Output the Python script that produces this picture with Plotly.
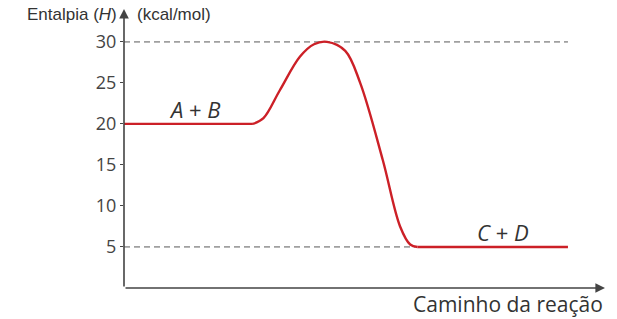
import plotly.graph_objects as go

# Data
path_x = [0, 26.8, 29.0, 32.4, 36.6, 39.5, 42.2, 46.0, 49.1, 53.8, 57.4, 59.5, 61.0, 92.3]
enthalpy = [20, 20, 20.7, 24.1, 28.2, 29.7, 30, 28.9, 25.0, 15.6, 7.5, 5.3, 5.0, 5.0]
ref_levels = [30, 5]
ref_ends = [92.3, 60.5]
y_ticks = [5, 10, 15, 20, 25, 30]
labels = ["<i>A</i> + <i>B</i>", "<i>C</i> + <i>D</i>"]
label_x = [14.8, 78.8]
label_y = [21.8, 6.8]
y_top = 34

fig = go.Figure()

for lvl, xe in zip(ref_levels, ref_ends):
    fig.add_trace(go.Scatter(x=[0, xe], y=[lvl, lvl], mode="lines",
                             line=dict(color="#a0a0a0", width=1.8, dash="6px,4px"),
                             hoverinfo="skip", showlegend=False))

red = dict(color="#cc2027", width=2.4)
# flat start, curved barrier, flat end
fig.add_trace(go.Scatter(x=path_x[:2], y=enthalpy[:2], mode="lines",
                         line=red, showlegend=False))
fig.add_trace(go.Scatter(x=path_x[1:-1], y=enthalpy[1:-1], mode="lines",
                         line=dict(**red, shape="spline", smoothing=1.0), showlegend=False))
fig.add_trace(go.Scatter(x=path_x[-2:], y=enthalpy[-2:], mode="lines",
                         line=red, showlegend=False))

for t, lx, ly in zip(labels, label_x, label_y):
    fig.add_annotation(x=lx, y=ly, text=t, showarrow=False,
                       font=dict(family="Open Sans", size=22, color="#333"))

# axes with arrows
fig.add_annotation(x=100, y=0, ax=0, ay=0, xref="x", yref="y", axref="x", ayref="y",
                   showarrow=True, arrowhead=2, arrowsize=1.2, arrowwidth=1.6,
                   arrowcolor="#444", text="")
fig.add_annotation(x=0, y=y_top, ax=0, ay=0, xref="x", yref="y", axref="x", ayref="y",
                   showarrow=True, arrowhead=2, arrowsize=1.2, arrowwidth=1.6,
                   arrowcolor="#444", text="")

fig.add_annotation(x=0, y=y_top, xref="x", yref="y", xanchor="right", yanchor="middle",
                   xshift=-5, yshift=-5, text="Entalpia (<i>H</i>)", showarrow=False,
                   font=dict(family="Liberation Sans", size=17, color="#333"))
fig.add_annotation(x=0, y=y_top, xref="x", yref="y", xanchor="left", yanchor="middle",
                   xshift=11, yshift=-5, text="(kcal/mol)", showarrow=False,
                   font=dict(family="Liberation Sans", size=17, color="#333"))
fig.add_annotation(x=100, y=0, xref="x", yref="y", xanchor="right", yanchor="top",
                   yshift=0, text="Caminho da reação", showarrow=False,
                   font=dict(family="Open Sans", size=21, color="#333"))

fig.update_xaxes(range=[0, 100], visible=False, fixedrange=True)
fig.update_yaxes(range=[0, y_top], tickvals=y_ticks, ticks="outside", ticklen=3,
                 tickcolor="#444", showgrid=False, zeroline=False, showline=False,
                 tickfont=dict(family="Open Sans", size=18, color="#444"))

fig.update_layout(width=617, height=319, margin=dict(l=124, r=12, t=9, b=31),
                  plot_bgcolor="white", paper_bgcolor="white")

fig.write_html("out.html", config={"displayModeBar": False},
               post_script="document.body.style.margin='0';")
